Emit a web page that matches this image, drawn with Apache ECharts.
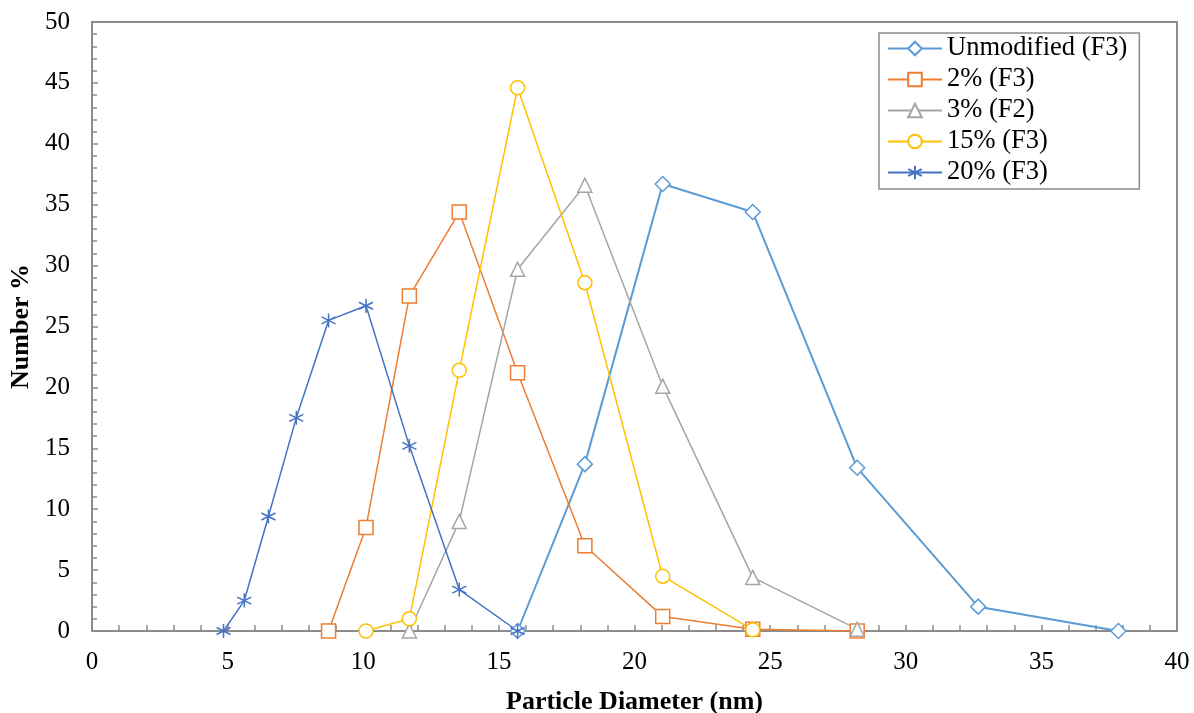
<!DOCTYPE html>
<html>
<head>
<meta charset="utf-8">
<script src="https://cdn.jsdelivr.net/npm/echarts@6/dist/echarts.min.js"></script>
<style>
  html, body { margin: 0; padding: 0; background: #fff; }
  #chart { width: 1194px; height: 713px; }
</style>
</head>
<body>
<div id="chart"></div>
<script>
// particle diameter bins (nm)
var diameters = [4.849, 5.615, 6.503, 7.531, 8.721, 10.1, 11.7, 13.54, 15.69, 18.17, 21.04, 24.36, 28.21, 32.67, 37.84];

// number % per bin, null where the series has no point
var unmodifiedF3 = [null, null, null, null, null, null, null, null, 0, 13.7, 36.7, 34.4, 13.4, 2.0, 0];
var pct2F3 = [null, null, null, null, 0, 8.5, 27.5, 34.4, 21.2, 7.0, 1.2, 0.15, 0, null, null];
var pct3F2 = [null, null, null, null, null, null, 0, 9.0, 29.7, 36.6, 20.1, 4.4, 0.15, null, null];
var pct15F3 = [null, null, null, null, null, 0, 1.0, 21.4, 44.6, 28.6, 4.5, 0.1, null, null, null];
var pct20F3 = [0, 2.5, 9.4, 17.5, 25.5, 26.7, 15.2, 3.4, 0, null, null, null, null, null, null];

var seriesNames = ["Unmodified (F3)", "2% (F3)", "3% (F2)", "15% (F3)", "20% (F3)"];
var seriesColors = ["#5B9BD5", "#ED7D31", "#A5A5A5", "#FFC000", "#4472C4"];

var asterisk = "path://M0,-6L0,6M-5.2,-3L5.2,3M-5.2,3L5.2,-3";

function pairs(values) {
  var out = [];
  values.forEach(function (v, i) {
    if (v !== null) out.push([diameters[i], v]);
  });
  return out;
}

function makeSeries(idx, values, symbol, size, filled) {
  var c = seriesColors[idx];
  return {
    name: seriesNames[idx],
    type: "line",
    data: pairs(values),
    symbol: symbol,
    symbolSize: size,
    showAllSymbol: true,
    lineStyle: { color: c, width: idx === 0 ? 2 : 1.5 },
    itemStyle: { color: filled ? c : "#fff", borderColor: c, borderWidth: 1.5 },
    emphasis: { disabled: true },
    animation: false
  };
}

var chart = echarts.init(document.getElementById("chart"));
var axisGray = "#8c8c8c";
var font = "'Liberation Serif', 'Times New Roman', serif";

var option = {
  textStyle: { fontFamily: font },
  grid: {
    left: 92, top: 22, width: 1085, height: 609,
    containLabel: false, outerBoundsMode: "none",
    show: true, borderColor: axisGray, borderWidth: 2, backgroundColor: "transparent"
  },
  legend: {
    orient: "vertical",
    left: 879, top: 33,
    data: seriesNames,
    backgroundColor: "#fff",
    borderColor: axisGray, borderWidth: 1.5,
    padding: [2, 12, 3, 8],
    itemWidth: 54, itemHeight: 17, itemGap: 4,
    textStyle: { fontFamily: font, fontSize: 26.5, color: "#000" }
  },
  xAxis: {
    type: "value",
    min: 0, max: 40, interval: 5,
    name: "Particle Diameter (nm)",
    nameLocation: "middle",
    nameGap: 58,
    nameTextStyle: { fontFamily: font, fontSize: 26, fontWeight: "bold", color: "#000" },
    axisLine: { show: true, lineStyle: { color: axisGray, width: 2 } },
    axisTick: { show: true, inside: true, length: 6, lineStyle: { color: axisGray, width: 1.5 } },
    minorTick: { show: true, splitNumber: 5, length: 6, lineStyle: { color: axisGray, width: 1.5 } },
    axisLabel: { fontFamily: font, fontSize: 25, color: "#000", margin: 19 },
    splitLine: { show: false }
  },
  yAxis: {
    type: "value",
    min: 0, max: 50, interval: 5,
    name: "Number %",
    nameLocation: "middle",
    nameGap: 57,
    nameTextStyle: { fontFamily: font, fontSize: 26, fontWeight: "bold", color: "#000" },
    axisLine: { show: true, lineStyle: { color: axisGray, width: 2 } },
    axisTick: { show: true, inside: true, length: 6, lineStyle: { color: axisGray, width: 1.5 } },
    minorTick: { show: true, splitNumber: 5, length: 5, lineStyle: { color: axisGray, width: 1.5 } },
    axisLabel: { fontFamily: font, fontSize: 25, color: "#000", margin: 22 },
    splitLine: { show: false }
  },
  series: [
    makeSeries(0, unmodifiedF3, "diamond", 15, false),
    makeSeries(1, pct2F3, "rect", 14, false),
    makeSeries(2, pct3F2, "triangle", 14, false),
    makeSeries(3, pct15F3, "circle", 14, false),
    makeSeries(4, pct20F3, asterisk, 14, true)
  ]
};

chart.setOption(option);
</script>
</body>
</html>
